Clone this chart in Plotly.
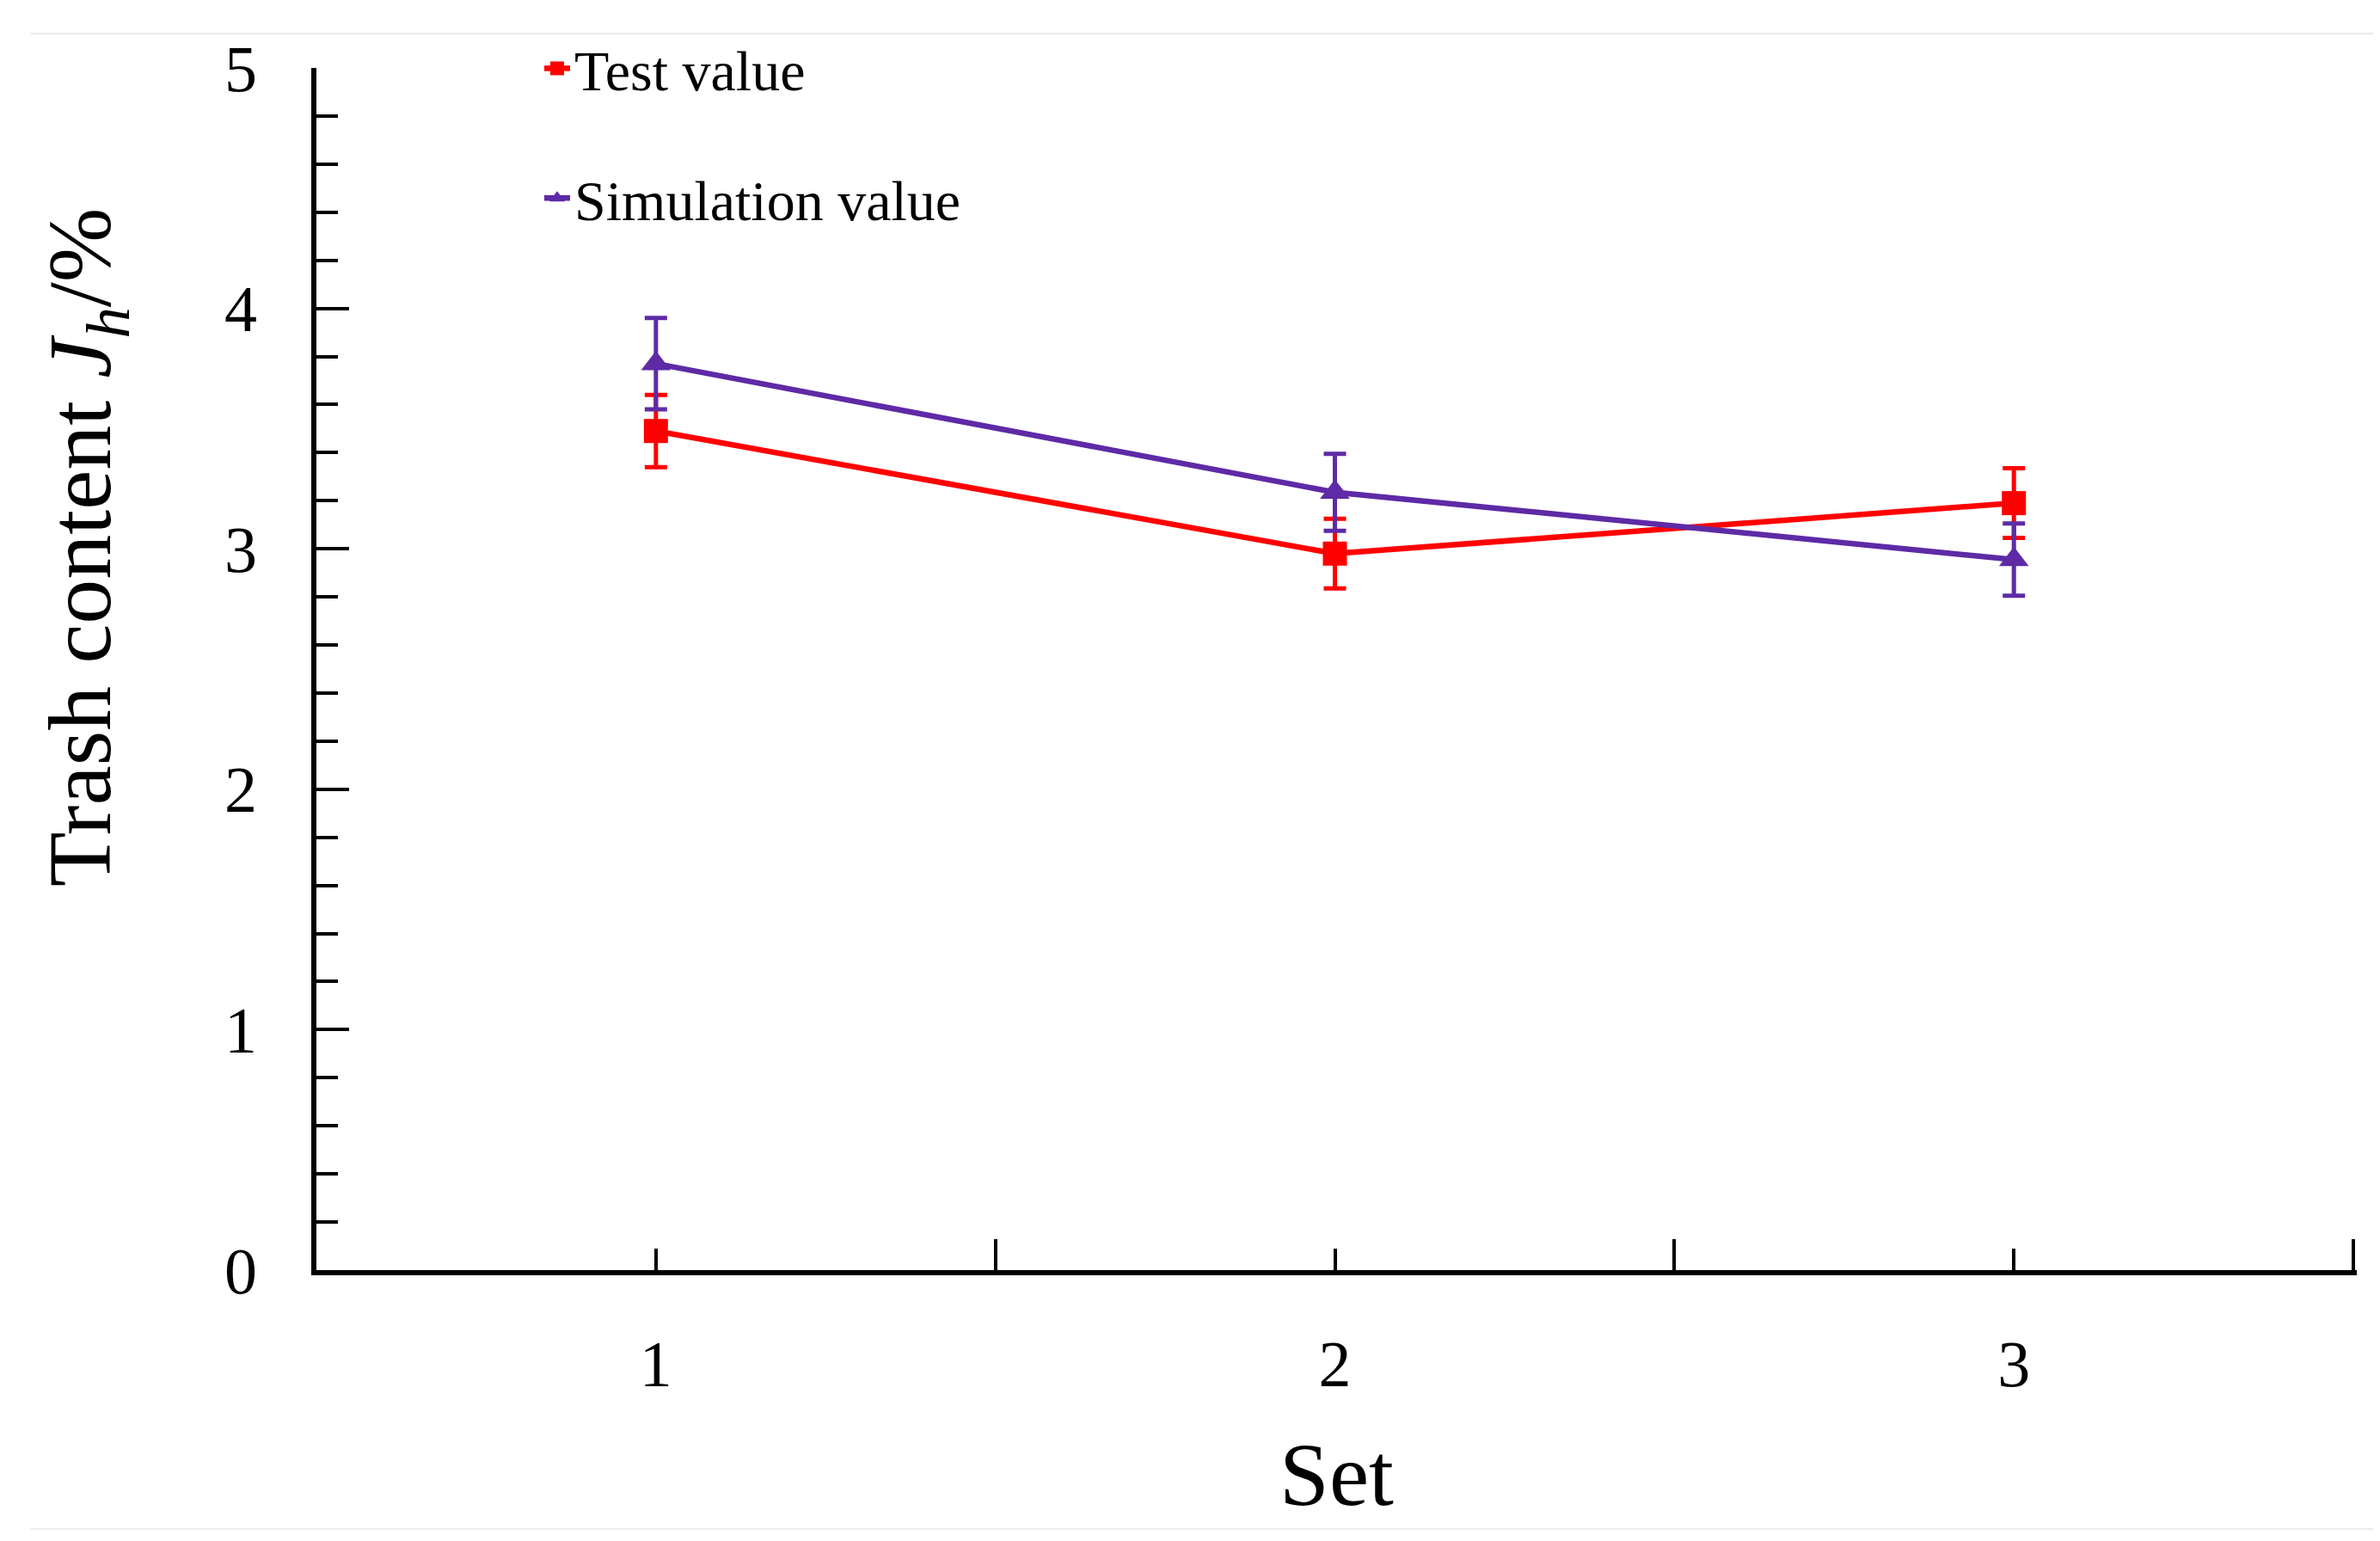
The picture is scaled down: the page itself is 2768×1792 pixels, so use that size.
import plotly.graph_objects as go

sets = [1, 2, 3]
test_values = [3.49, 2.98, 3.19]
test_errors = [0.15, 0.145, 0.145]
sim_values = [3.77, 3.235, 2.955]
sim_errors = [0.19, 0.16, 0.15]

x_tick_vals = [1, 2, 3]
x_tick_text = ["1", "2", "3"]
x_long_ticks = [1.5, 2.5, 3.5]
y_tick_vals = [0, 1, 2, 3, 4, 5]
y_tick_text = ["0", "1", "2", "3", "4", "5"]

RED = "#FF0000"
PURPLE = "#5E2AA6"
FONT = "Liberation Serif"

W, H = 2768, 1792
L, R, T, B = 360, 35, 71, 323

fig = go.Figure()

fig.add_trace(go.Scatter(
    x=sets, y=test_values, name="Test value", mode="lines+markers",
    line=dict(color=RED, width=6.5),
    marker=dict(symbol="square", size=28, color=RED),
    error_y=dict(type="data", array=test_errors, visible=True,
                 color=RED, thickness=5, width=13),
    legendgroup="a",
))
fig.add_trace(go.Scatter(
    x=sets, y=sim_values, name="Simulation value", mode="lines+markers",
    line=dict(color=PURPLE, width=6.5),
    marker=dict(symbol="triangle-up", size=30, color=PURPLE),
    error_y=dict(type="data", array=sim_errors, visible=True,
                 color=PURPLE, thickness=5, width=13),
    legendgroup="b",
))

fig.update_layout(
    width=W, height=H,
    margin=dict(l=L, r=R, t=T, b=B),
    paper_bgcolor="white", plot_bgcolor="white",
    font=dict(family=FONT, color="black"),
    showlegend=True,
    legend=dict(
        x=(620 - L) / (W - L - R), y=1.035, xanchor="left", yanchor="top",
        font=dict(family=FONT, size=66, color="black"),
        bgcolor="rgba(0,0,0,0)", tracegroupgap=62, itemsizing="trace",
        itemwidth=30,
    ),
    xaxis=dict(
        range=[0.5, 3.505], showgrid=False, zeroline=False,
        showline=True, linecolor="black", linewidth=5.5,
        tickmode="array", tickvals=x_tick_vals, ticktext=x_tick_text,
        ticks="inside", ticklen=25, tickwidth=3.5, tickcolor="black",
        minor=dict(tickvals=x_long_ticks, ticks="inside", ticklen=36,
                   tickwidth=3.5, tickcolor="black", showgrid=False),
        tickfont=dict(family=FONT, size=76, color="black"),
        ticklabelstandoff=38,
        title=dict(text="Set", font=dict(family=FONT, size=104, color="black"),
                   standoff=52),
        automargin=False,
    ),
    yaxis=dict(
        range=[0, 5], showgrid=False, zeroline=False,
        showline=True, linecolor="black", linewidth=5.5,
        tickmode="array", tickvals=y_tick_vals, ticktext=y_tick_text,
        ticks="inside", ticklen=38, tickwidth=3.5, tickcolor="black",
        minor=dict(dtick=0.2, ticks="inside", ticklen=25, tickwidth=3.5,
                   tickcolor="black", showgrid=False),
        tickfont=dict(family=FONT, size=76, color="black"),
        ticklabelstandoff=48,
        automargin=False,
    ),
)

fig.add_annotation(
    text="Trash content <i>J</i><sub><i>h</i></sub>/%",
    xref="paper", yref="paper",
    x=(92 - L) / (W - L - R), y=(H - B - 629) / (H - T - B),
    xanchor="center", yanchor="middle", textangle=-90, showarrow=False,
    font=dict(family=FONT, size=104, color="black"),
)

# faint frame lines of the original figure
for ypix in (31, 1770):
    yp = (H - B - ypix) / (H - T - B)
    fig.add_shape(type="line", xref="paper", yref="paper",
                  x0=(27 - L) / (W - L - R), x1=1.0 + R / (W - L - R),
                  y0=yp, y1=yp, line=dict(color="#ececec", width=2))

fig.write_html("out.html")
